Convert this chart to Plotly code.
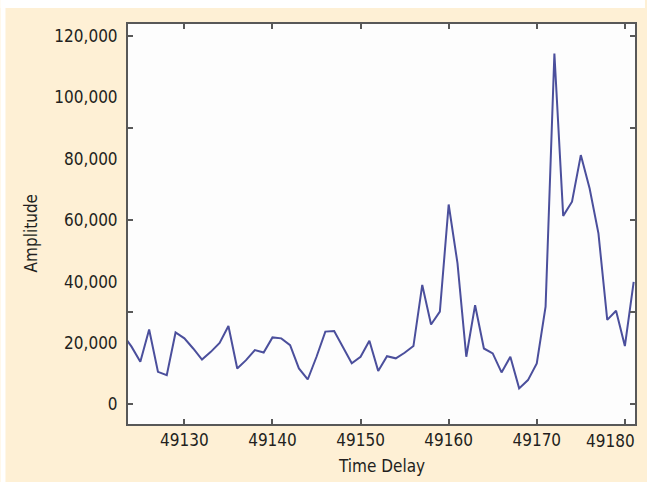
import plotly.graph_objects as go

# ---- data ----
time_delay = list(range(49123, 49182))
amplitude = [
    22800, 18800, 13900, 24400, 10600, 9500, 23400, 21500, 18200, 14600,
    17100, 20000, 25500, 11700, 14400, 17700, 16900, 21800, 21500, 19300,
    11700, 8100, 15500, 23700, 23900, 18500, 13400, 15500, 20700, 10900,
    15700, 15000, 16800, 19000, 38900, 26000, 30200, 65100, 46000, 15500,
    32300, 18200, 16600, 10400, 15500, 5200, 7900, 13300, 31800, 114300,
    61400, 66000, 81200, 70300, 55700, 27500, 30500, 19000, 39900,
]
x_ticks = [49130, 49140, 49150, 49160, 49170, 49180]
y_label_vals = [0, 20000, 40000, 60000, 80000, 100000, 120000]
y_label_text = ["0", "20,000", "40,000", "60,000", "80,000", "100,000", "120,000"]
y_mark_vals = [0, 30000, 60000, 90000, 120000]

X_RANGE = [49123.6, 49181.15]
Y_RANGE = [-6400, 123900]

FONT = "DejaVu Sans Condensed, Liberation Sans Narrow, sans-serif"
TXT = "#231f20"
PEACH = "#fef0d5"
FRAME = "#585858"
FS = 17

fig = go.Figure()
fig.add_trace(go.Scatter(
    x=time_delay, y=amplitude, mode="lines",
    line=dict(color="#4b4f9c", width=2), showlegend=False, hoverinfo="x+y",
))
# invisible trace to anchor the secondary (tick-mark) y axis
fig.add_trace(go.Scatter(
    x=time_delay, y=amplitude, mode="lines", yaxis="y2",
    line=dict(width=0, color="rgba(0,0,0,0)"), showlegend=False, hoverinfo="skip",
))

W, H = 647, 482
ml, mr, mt, mb = 128, 10, 24, 58
pw, ph = W - ml - mr, H - mt - mb

def px_x(px):
    return (px - ml) / pw

def px_y(py):
    return (H - mb - py) / ph

# last x label sits at the right edge; drawn nudged left so it stays on the page
axis_text = [str(v) for v in x_ticks[:-1]] + [""]
last_label = dict(
    text=str(x_ticks[-1]), xref="x", yref="paper", x=x_ticks[-1], y=px_y(441),
    xanchor="right", yanchor="middle", xshift=12, showarrow=False,
    font=dict(size=FS, family=FONT, color=TXT),
)

fig.update_layout(
    width=W, height=H,
    margin=dict(l=ml, r=mr, t=mt, b=mb),
    paper_bgcolor=PEACH,
    plot_bgcolor="#fdfdfd",
    font=dict(family=FONT, size=FS, color=TXT),
    xaxis=dict(
        range=X_RANGE, tickvals=x_ticks, ticktext=axis_text,
        ticks="inside", ticklen=5, tickwidth=2, tickcolor=FRAME,
        showline=True, linecolor=FRAME, linewidth=2, mirror="ticks",
        showgrid=False, zeroline=False, tickfont=dict(size=FS),
    ),
    yaxis=dict(
        range=Y_RANGE, tickvals=y_label_vals, ticktext=y_label_text,
        ticks="outside", ticklen=5, tickcolor="rgba(0,0,0,0)",
        showline=True, linecolor=FRAME, linewidth=2, mirror=True,
        showgrid=False, zeroline=False, tickfont=dict(size=FS),
    ),
    yaxis2=dict(
        range=Y_RANGE, overlaying="y", side="left", tickvals=y_mark_vals,
        showticklabels=False, ticks="inside", ticklen=5, tickwidth=2,
        tickcolor=FRAME, showline=False, mirror="ticks",
        showgrid=False, zeroline=False,
    ),
    shapes=[
        # thin white border at the top and left edges of the image
        dict(type="rect", xref="paper", yref="paper", layer="below",
             x0=px_x(0), x1=px_x(W), y0=px_y(8), y1=px_y(0),
             fillcolor="white", line=dict(width=0)),
        dict(type="rect", xref="paper", yref="paper", layer="below",
             x0=px_x(0), x1=px_x(5), y0=px_y(H), y1=px_y(0),
             fillcolor="white", line=dict(width=0)),
    ],
    annotations=[
        dict(text="Amplitude", xref="paper", yref="paper",
             x=px_x(31), y=px_y(233), textangle=-90,
             showarrow=False, xanchor="center", yanchor="middle",
             font=dict(size=FS, family=FONT, color=TXT)),
        dict(text="Time Delay", xref="paper", yref="paper",
             x=px_x(383), y=px_y(466),
             showarrow=False, xanchor="center", yanchor="middle",
             font=dict(size=FS, family=FONT, color=TXT)),
        last_label,
    ],
)

fig.write_html(
    "out.html",
    config={"displayModeBar": False},
    post_script="document.body.style.margin='0';document.body.style.overflow='hidden';",
)
